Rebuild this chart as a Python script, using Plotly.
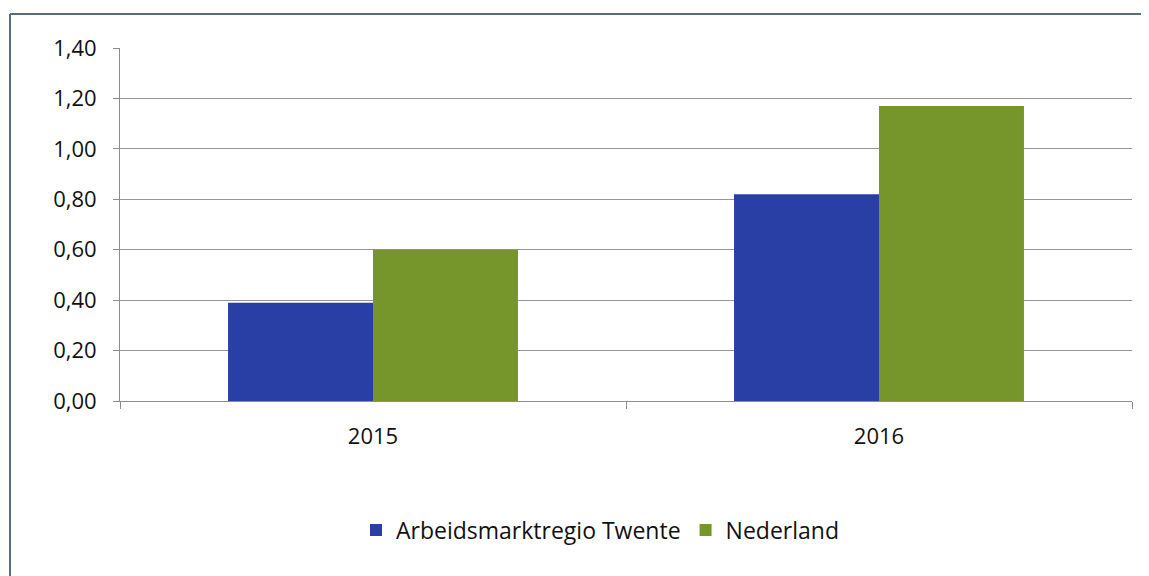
import plotly.graph_objects as go

categories = ["2015", "2016"]
twente = [0.39, 0.82]
nederland = [0.60, 1.17]
series_names = ["Arbeidsmarktregio Twente", "Nederland"]
y_ticks = [0, 0.2, 0.4, 0.6, 0.8, 1.0, 1.2, 1.4]

fig = go.Figure()
fig.add_trace(go.Bar(x=categories, y=twente, name=series_names[0],
                     marker=dict(color="#2A3FA6", line=dict(width=0))))
fig.add_trace(go.Bar(x=categories, y=nederland, name=series_names[1],
                     marker=dict(color="#76962B", line=dict(width=0))))

# page has an 8px body margin; work in figure coordinates (page - 8)
OFF = 8
W, H = 1149, 576
L = 120 - OFF
T = 48 - OFF
R = W - (1132 - OFF)
B = H - (401 - OFF)
pw, ph = W - L - R, H - T - B

def px(x):
    return (x - OFF - L) / pw

def py(y):
    return (H - B - (y - OFF)) / ph

frame = "#5B6B7E"
fig.add_shape(type="line", xref="paper", yref="paper", x0=px(10), x1=px(1160), y0=py(14), y1=py(14),
              line=dict(color=frame, width=2))
fig.add_shape(type="line", xref="paper", yref="paper", x0=px(10), x1=px(10), y0=py(14), y1=py(590),
              line=dict(color=frame, width=2))

fig.update_layout(
    width=W, height=H,
    margin=dict(l=L, r=R, t=T, b=B),
    paper_bgcolor="white", plot_bgcolor="white",
    barmode="group", bargap=0.427, bargroupgap=0,
    separators=",.",
    font=dict(family="Open Sans, Liberation Sans, sans-serif", color="#111111"),
    legend=dict(orientation="h", x=px(600), xanchor="center", y=py(530), yanchor="middle",
                font=dict(size=23), itemwidth=30, traceorder="normal"),
    xaxis=dict(type="category", showgrid=False, showline=True, linecolor="#8C8C8C", linewidth=1,
               ticks="outside", tickson="boundaries", ticklen=7, tickcolor="#8C8C8C",
               tickfont=dict(size=22), ticklabelstandoff=16),
    yaxis=dict(range=[0, 1.4], tickvals=y_ticks, tickformat=".2f", showgrid=True,
               gridcolor="#959595", gridwidth=1, showline=True, linecolor="#8C8C8C", linewidth=1,
               ticks="outside", ticklen=6, tickcolor="#8C8C8C", tickfont=dict(size=22),
               ticklabelstandoff=12, zeroline=False),
)

fig.write_html("out.html")
